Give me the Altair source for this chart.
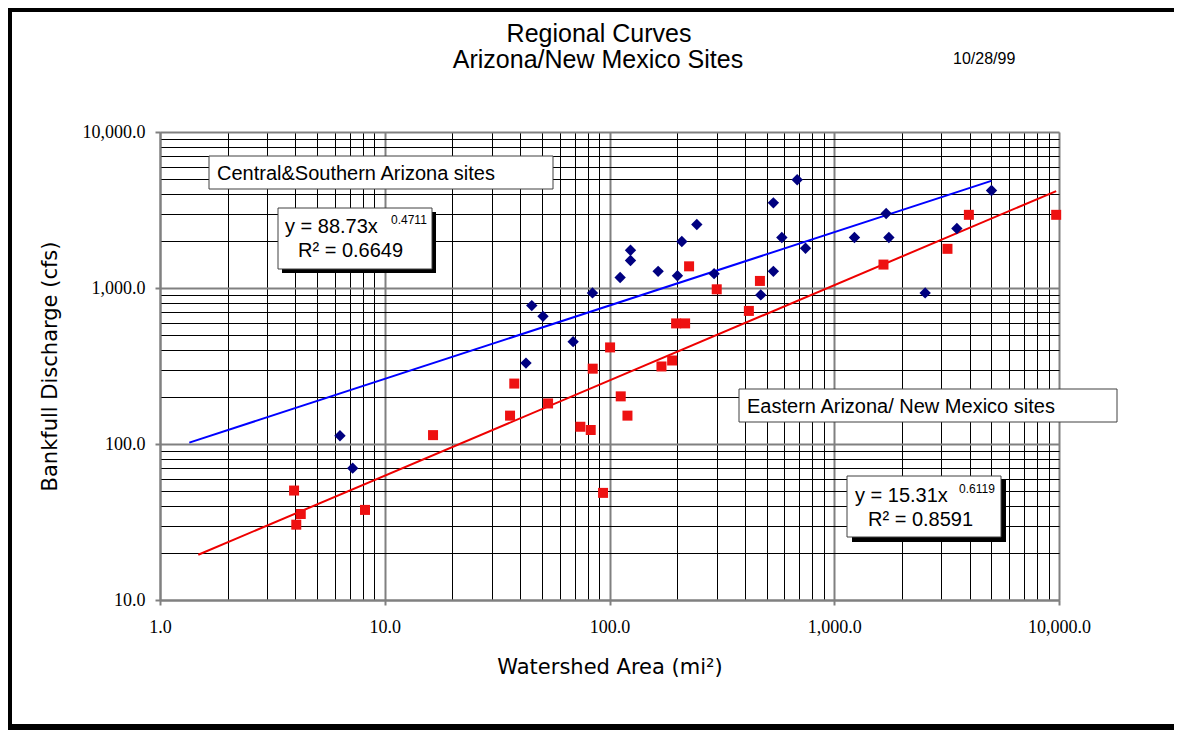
import altair as alt
import pandas as pd

# ---- data ----
central_area = [6.32, 7.2, 42.5, 45.1, 50.6, 68.9, 84, 111.5, 124, 124, 164.6, 200.6,
                209.8, 244.6, 292, 471, 536, 536, 584.5, 684, 745, 1230, 1702, 1750,
                2538, 3512, 5008]
central_q = [113, 70, 330, 771, 658, 453, 930, 1167, 1746, 1500, 1279, 1197,
             1986, 2552, 1236, 903, 3515, 1279, 2106, 4940, 1799, 2106, 3002, 2106,
             930, 2404, 4218]

eastern_area = [3.95, 4.04, 4.23, 8.17, 16.4, 36.1, 37.7, 53.3, 74.2, 82.5, 84.2, 93.6,
                100.6, 112.2, 120.2, 170.3, 190, 197.9, 217, 226, 300, 417, 467, 1656,
                3190, 3972, 9716]
eastern_q = [50.3, 30.4, 35.6, 37.8, 114, 152, 244, 182, 129, 123, 304, 48.6,
             416, 202, 152, 314, 343, 593, 593, 1377, 981, 713, 1110, 1413,
             1783, 2945, 2945]

# trend-line end points
central_fit_area = [1.35, 5000]
central_fit_q = [102, 4860]
eastern_fit_area = [1.48, 9716]
eastern_fit_q = [19.5, 4180]

x_ticks = [k * 10 ** e for e in range(0, 4) for k in range(1, 10)] + [10000]
y_ticks = [k * 10 ** e for e in range(1, 4) for k in range(1, 10)] + [10000]
x_major = [1, 10, 100, 1000, 10000]
y_major = [10, 100, 1000, 10000]

W, H = 899, 468

central = pd.DataFrame({"area": central_area, "q": central_q})
eastern = pd.DataFrame({"area": eastern_area, "q": eastern_q})
central_fit = pd.DataFrame({"area": central_fit_area, "q": central_fit_q})
eastern_fit = pd.DataFrame({"area": eastern_fit_area, "q": eastern_fit_q})
one = pd.DataFrame({"k": [0]})


def major_test(vals):
    return " || ".join(f"datum.value == {v}" for v in vals)


def make_axis(values, majors, title, **kw):
    t = major_test(majors)
    return alt.Axis(
        values=values,
        title=title,
        labelExpr=f"({t}) ? format(datum.value, ',.1f') : ''",
        labelFont="Liberation Serif",
        labelFontSize=18,
        labelColor="black",
        labelOverlap=False,
        labelBound=False,
        labelFlush=False,
        grid=True,
        gridColor={"condition": {"test": t, "value": "#808080"}, "value": "#000000"},
        gridWidth={"condition": {"test": t, "value": 2}, "value": 1},
        tickColor="#808080",
        tickWidth=2,
        tickSize=5,
        tickOpacity={"condition": {"test": t, "value": 1}, "value": 0},
        domainColor="#808080",
        domainWidth=2,
        titleFont="DejaVu Sans",
        titleFontWeight="normal",
        titleColor="black",
        **kw,
    )


xaxis = make_axis(x_ticks, x_major, "Watershed Area (mi²)", labelPadding=13,
                  titleFontSize=21, titleY=73, titleBaseline="alphabetic")
yaxis = make_axis(y_ticks, y_major, "Bankfull Discharge (cfs)", labelPadding=10,
                  titleFontSize=21, titleX=-110, titleY=234, titleAngle=-90,
                  titleAlign="center", titleBaseline="middle")

X = alt.X("area:Q", scale=alt.Scale(type="log", domain=[1, 10000], nice=False), axis=xaxis)
Y = alt.Y("q:Q", scale=alt.Scale(type="log", domain=[10, 10000], nice=False), axis=yaxis)

central_line = alt.Chart(central_fit).mark_line(color="#0000ff", strokeWidth=2).encode(x=X, y=Y)
eastern_line = alt.Chart(eastern_fit).mark_line(color="#ee0000", strokeWidth=2).encode(x=X, y=Y)
central_pts = alt.Chart(central).mark_point(shape="diamond", filled=True, size=130,
                                            color="#000080", opacity=1).encode(x=X, y=Y)
eastern_pts = alt.Chart(eastern).mark_point(shape="square", filled=True, size=100,
                                            color="#ee1111", opacity=1).encode(x=X, y=Y)


def text(t, x, y, size, font="Liberation Sans", align="left", baseline="alphabetic"):
    return alt.Chart(one).mark_text(text=t, fontSize=size, font=font, align=align,
                                    baseline=baseline, color="black").encode(
        x=alt.value(x), y=alt.value(y))


def rect(x, y, x2, y2, fill="white", stroke=None, sw=1, fo=1):
    kw = dict(fill=fill, fillOpacity=fo)
    if stroke:
        kw.update(stroke=stroke, strokeWidth=sw)
    return alt.Chart(one).mark_rect(**kw).encode(
        x=alt.value(x), x2=alt.value(x2), y=alt.value(y), y2=alt.value(y2))


PAD = {"left": 152, "top": 124, "right": 118, "bottom": 132}
RIGHT = W + PAD["right"]
BOTTOM = H + PAD["bottom"]

annotations = [
    # labels for the two groups
    rect(49, 24, 393, 57, stroke="#404040", sw=1),
    text("Central&Southern Arizona sites", 57, 48, 20),
    rect(579, 257, 957, 290, stroke="#404040", sw=1),
    text("Eastern Arizona/ New Mexico sites", 587, 281, 20),
    # equation box 1
    rect(122, 80, 276, 141, fill="black"),
    rect(118, 76, 272, 137, stroke="#404040", sw=1),
    text("y = 88.73x", 125, 101, 20),
    text("0.4711", 231, 92, 12),
    text("R² = 0.6649", 138, 125, 20),
    # equation box 2
    rect(692, 348, 846, 410, fill="black"),
    rect(687, 344, 841, 405, stroke="#404040", sw=1),
    text("y = 15.31x", 695, 370, 20),
    text("0.6119", 799, 361, 12),
    text("R² = 0.8591", 708, 394, 20),
    # titles
    text("Regional Curves", 439, -90, 25, align="center"),
    text("Arizona/New Mexico Sites", 438, -64, 25, align="center"),
    text("10/28/99", 793, -68, 16),
    # outer frame bars (left, top, bottom)
    rect(-152, -124, -148, BOTTOM - 2, fill="black"),
    rect(-152, -124, RIGHT - 3, -120, fill="black"),
    rect(-152, BOTTOM - 8, RIGHT - 3, BOTTOM - 2, fill="black"),
]

chart = alt.layer(central_line, eastern_line, central_pts, eastern_pts, *annotations).properties(
    width=W, height=H,
    padding=PAD,
    autosize=alt.AutoSizeParams(type="none"),
).configure_view(stroke="#808080", strokeWidth=2).configure(background="white")

chart.save("out.html", embed_options={"renderer": "svg", "actions": False})
